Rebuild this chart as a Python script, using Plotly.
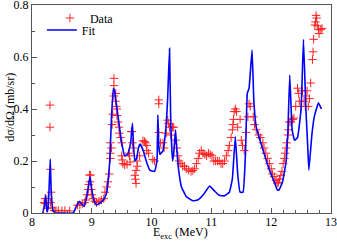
import plotly.graph_objects as go

# Data (red crosses)
data_E = [8.20, 8.22, 8.22, 8.25, 8.27, 8.30, 8.30, 8.31, 8.32, 8.31, 8.34, 8.37, 8.40, 8.44, 8.50,
          8.55, 8.63, 8.76, 8.80, 8.84, 8.88, 8.90, 8.92, 8.94, 8.95, 8.96, 8.98, 8.97, 8.99, 9.00,
          9.02, 9.05, 9.08, 9.12, 9.16, 9.20, 9.22, 9.25, 9.27, 9.29, 9.31, 9.31, 9.31, 9.33, 9.34,
          9.35, 9.37, 9.37, 9.37, 9.40, 9.40, 9.41, 9.42, 9.42, 9.44, 9.455, 9.46, 9.48, 9.50, 9.50,
          9.51, 9.52, 9.55, 9.59, 9.62, 9.63, 9.64, 9.66, 9.67, 9.68, 9.69, 9.72, 9.73, 9.74, 9.74,
          9.755, 9.76, 9.80, 9.855, 9.88, 9.90, 9.92, 9.92, 9.95, 10.02, 10.05, 10.12, 10.12, 10.12,
          10.15, 10.19, 10.21, 10.245, 10.27, 10.28, 10.30, 10.32, 10.35, 10.37, 10.40, 10.42, 10.44,
          10.46, 10.49, 10.52, 10.55, 10.58, 10.62, 10.66, 10.69, 10.72, 10.75, 10.78, 10.80, 10.83,
          10.86, 10.89, 10.92, 10.95, 10.98, 11.01, 11.04, 11.07, 11.10, 11.13, 11.16, 11.19, 11.22,
          11.25, 11.28, 11.30, 11.33, 11.35, 11.36, 11.37, 11.38, 11.40, 11.42, 11.44, 11.48, 11.50,
          11.52, 11.55, 11.58, 11.61, 11.63, 11.65, 11.70, 11.72, 11.75, 11.79, 11.82, 11.86, 11.88,
          11.91, 11.94, 11.97, 12.00, 12.02, 12.05, 12.08, 12.10, 12.12, 12.14, 12.16, 12.18, 12.20,
          12.22, 12.23, 12.25, 12.26, 12.28, 12.29, 12.30, 12.33, 12.36, 12.38, 12.41, 12.44, 12.46,
          12.47, 12.50, 12.52, 12.55, 12.57, 12.58, 12.60, 12.62, 12.64, 12.66, 12.69, 12.70, 12.71,
          12.73, 12.74, 12.75, 12.76, 12.77, 12.79, 12.80, 12.83, 12.85]
data_V = [0.040, 0.056, 0.037, 0.018, 0.056, 0.415, 0.330, 0.168, 0.080, 0.040, 0.020, 0.010, 0.008, 0.010, 0.008,
          0.010, 0.008, 0.030, 0.030, 0.035, 0.040, 0.050, 0.070, 0.090, 0.110, 0.146, 0.146, 0.120, 0.090, 0.070,
          0.055, 0.045, 0.040, 0.045, 0.050, 0.055, 0.080, 0.100, 0.120, 0.150, 0.210, 0.230, 0.270, 0.250, 0.340,
          0.380, 0.450, 0.490, 0.518, 0.460, 0.430, 0.410, 0.400, 0.375, 0.350, 0.330, 0.307, 0.290, 0.270, 0.220,
          0.204, 0.190, 0.185, 0.187, 0.230, 0.220, 0.196, 0.313, 0.313, 0.270, 0.250, 0.145, 0.130, 0.114, 0.164,
          0.200, 0.180, 0.220, 0.278, 0.275, 0.270, 0.260, 0.240, 0.230, 0.206, 0.200, 0.435, 0.420, 0.310,
          0.270, 0.270, 0.250, 0.307, 0.357, 0.345, 0.330, 0.300, 0.330, 0.330, 0.280, 0.250, 0.220,
          0.200, 0.190, 0.180, 0.180, 0.170, 0.165, 0.160, 0.163, 0.170, 0.190, 0.210, 0.230, 0.240,
          0.230, 0.225, 0.220, 0.230, 0.225, 0.220, 0.200, 0.200, 0.200, 0.200, 0.190, 0.190, 0.200,
          0.220, 0.240, 0.260, 0.290, 0.320, 0.340, 0.360, 0.390, 0.400, 0.390, 0.330, 0.360, 0.280,
          0.260, 0.240, 0.310, 0.370, 0.420, 0.410, 0.370, 0.340, 0.320, 0.300, 0.290, 0.270, 0.250,
          0.230, 0.210, 0.190, 0.170, 0.150, 0.140, 0.125, 0.115, 0.118, 0.130, 0.145, 0.160, 0.190,
          0.210, 0.230, 0.250, 0.270, 0.300, 0.320, 0.350, 0.350, 0.360, 0.365, 0.410, 0.480, 0.460,
          0.430, 0.410, 0.470, 0.430, 0.410, 0.450, 0.470, 0.410, 0.440, 0.500, 0.590, 0.620, 0.668,
          0.723, 0.735, 0.760, 0.750, 0.720, 0.705, 0.690, 0.705, 0.710]

# Fit (blue line)
fit_E = [8.18, 8.21, 8.23, 8.25, 8.27, 8.29, 8.305, 8.32, 8.35, 8.40, 8.50, 8.69, 8.74, 8.79, 8.83,
         8.87, 8.92, 8.97, 9.00, 9.04, 9.08, 9.15, 9.22, 9.25, 9.28, 9.30, 9.33, 9.36, 9.38, 9.41,
         9.44, 9.50, 9.55, 9.60, 9.65, 9.68, 9.70, 9.72, 9.75, 9.78, 9.81, 9.86, 9.91, 9.97, 10.05,
         10.09, 10.105, 10.12, 10.14, 10.19, 10.24, 10.27, 10.30, 10.32, 10.35, 10.37, 10.40, 10.42,
         10.45, 10.50, 10.58, 10.69, 10.77, 10.86, 10.97, 11.05, 11.13, 11.22, 11.30, 11.35, 11.40,
         11.44, 11.48, 11.53, 11.57, 11.60, 11.63, 11.68, 11.71, 11.75, 11.80, 11.88, 11.97, 12.05,
         12.10, 12.13, 12.19, 12.25, 12.28, 12.31, 12.35, 12.39, 12.44, 12.50, 12.54, 12.58, 12.61,
         12.63, 12.68, 12.72, 12.79, 12.84]
fit_V = [0.000, 0.030, 0.069, 0.005, 0.020, 0.120, 0.207, 0.090, 0.010, 0.000, 0.000, 0.000, 0.025, 0.045, 0.035,
         0.025, 0.070, 0.140, 0.090, 0.045, 0.031, 0.040, 0.060, 0.080, 0.140, 0.200, 0.370, 0.480, 0.470, 0.420,
         0.370, 0.270, 0.220, 0.225, 0.270, 0.345, 0.250, 0.200, 0.210, 0.250, 0.265, 0.240, 0.200, 0.165, 0.160,
         0.200, 0.377, 0.260, 0.225, 0.240, 0.330, 0.450, 0.633, 0.350, 0.200, 0.230, 0.320, 0.250,
         0.170, 0.100, 0.063, 0.047, 0.050, 0.069, 0.104, 0.085, 0.068, 0.066, 0.080, 0.130, 0.293,
         0.150, 0.080, 0.080, 0.230, 0.460, 0.480, 0.627, 0.430, 0.330, 0.290, 0.230, 0.165, 0.120,
         0.090, 0.088, 0.120, 0.200, 0.320, 0.530, 0.320, 0.280, 0.290, 0.400, 0.668, 0.400, 0.260,
         0.165, 0.300, 0.370, 0.424, 0.400]

x_ticks = [8, 9, 10, 11, 12, 13]
y_ticks = [0, 0.2, 0.4, 0.6, 0.8]
y_tick_labels = ["0", "0.2", "0.4", "0.6", "0.8"]

font = "Liberation Serif, Times New Roman, serif"

fig = go.Figure()
fig.add_trace(go.Scatter(
    x=data_E, y=data_V, mode="markers", name="Data", legend="legend",
    marker=dict(symbol="cross-thin", size=6, color="rgba(255,0,0,0)",
                line=dict(color="#ff2020", width=1)),
))
fig.add_trace(go.Scatter(
    x=fit_E, y=fit_V, mode="lines", name="Fit", legend="legend2",
    line=dict(color="#0000ff", width=1.6, shape="spline", smoothing=0.3),
))

axis_common = dict(
    showgrid=False, zeroline=False, showline=True, linecolor="#555555", linewidth=1,
    mirror=True, ticks="inside", tickcolor="#555555", ticklen=5, tickwidth=1,
    ticklabeloverflow="allow", automargin=False,
    tickfont=dict(family=font, size=12, color="black"),
)
fig.update_xaxes(range=[8, 13], tickvals=x_ticks, ticklabelstandoff=-2,
                 minor=dict(ticks="inside", dtick=0.2, ticklen=3, tickcolor="#555555"),
                 **axis_common)
fig.update_yaxes(range=[0, 0.8], tickvals=y_ticks, ticktext=y_tick_labels,
                 minor=dict(ticks="inside", dtick=0.1, ticklen=3, tickcolor="#555555"),
                 **axis_common)

legend_common = dict(xanchor="left", yanchor="middle", bgcolor="rgba(0,0,0,0)",
                     font=dict(family=font, size=12, color="black"), itemwidth=30,
                     borderwidth=0)
fig.update_layout(
    width=337, height=243,
    margin=dict(l=32, r=6, t=5, b=30, autoexpand=False),
    plot_bgcolor="white", paper_bgcolor="white",
    showlegend=True,
    legend=dict(x=0.06, y=0.9375, **legend_common),
    legend2=dict(x=0.033, y=0.88, **legend_common),
    annotations=[
        dict(text="E<sub>exc</sub> (MeV)", xref="paper", yref="paper", x=0.498, y=-0.096,
             xanchor="center", yanchor="middle", showarrow=False,
             font=dict(family=font, size=12, color="black")),
        dict(text="dσ/dΩ (mb/sr)", xref="paper", yref="paper", x=-0.074, y=0.51,
             xanchor="center", yanchor="middle", showarrow=False, textangle=-90,
             font=dict(family=font, size=12, color="black")),
    ],
)

fig.write_html("out.html", config={"displayModeBar": False},
               post_script="document.body.style.margin='0';")
